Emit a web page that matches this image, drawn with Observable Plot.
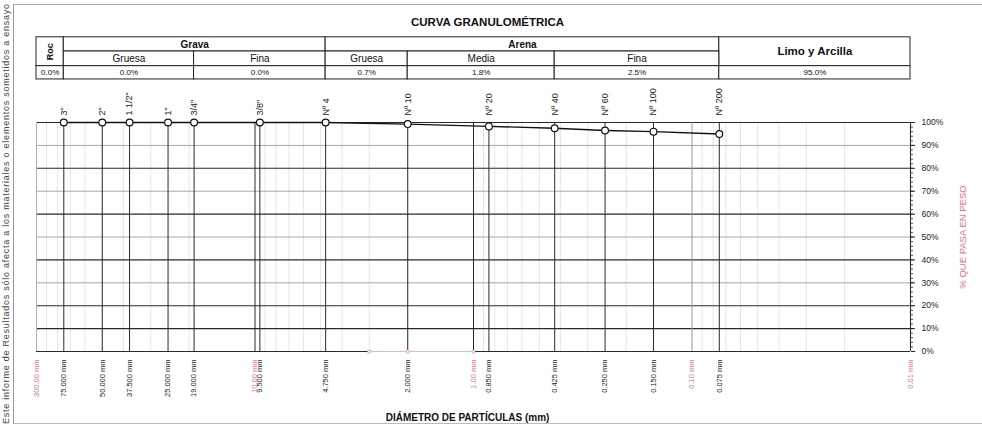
<!DOCTYPE html>
<html><head><meta charset="utf-8">
<script src="https://cdn.jsdelivr.net/npm/d3@7"></script>
<script src="https://cdn.jsdelivr.net/npm/@observablehq/plot@0.6"></script>
<style>
html,body{margin:0;padding:0;background:#fff;}
#wrap{position:relative;width:982px;height:427px;overflow:hidden;font-family:"Liberation Sans",Arial,sans-serif;}
#frame{position:absolute;left:13px;top:4px;width:990px;height:418px;border-left:1px solid #999;border-top:1px solid #aaa;border-bottom:1px solid #bbb;}
#side{position:absolute;left:1px;top:424px;transform-origin:0 0;transform:rotate(-90deg);white-space:nowrap;font-size:9px;letter-spacing:0.75px;line-height:11px;color:#444;}
#chart{position:absolute;left:0;top:0;}
</style></head>
<body><div id="wrap"><div id="frame"></div><div id="side">Este informe de Resultados sólo afecta a los materiales o elementos sometidos a ensayo</div><div id="chart"></div></div>
<script>
// ---- data ----
const sieveNames = ['3"', '2"', '1 1/2"', '1"', '3/4"', '3/8"', 'Nº 4', 'Nº 10', 'Nº 20', 'Nº 40', 'Nº 60', 'Nº 100', 'Nº 200'];
const sieveSizes = [75, 50, 37.5, 25, 19, 9.5, 4.75, 2.0, 0.85, 0.425, 0.25, 0.15, 0.075];
const sieveLabels = ["75.000 mm", "50.000 mm", "37.500 mm", "25.000 mm", "19.000 mm", "9.500 mm", "4.750 mm", "2.000 mm", "0.850 mm", "0.425 mm", "0.250 mm", "0.150 mm", "0.075 mm"];
const passing = [100, 100, 100, 100, 100, 100, 100, 99.3, 98.3, 97.5, 96.5, 96.0, 95.0];
const refSizes = [100, 10, 1, 0.1, 0.01];
const refLabels = ["300.00 mm", "10.00 mm", "1.00 mm", "0.10 mm", "0.01 mm"];
const yTicks = [0, 10, 20, 30, 40, 50, 60, 70, 80, 90, 100];
const yHeavy = [0, 10, 20, 40, 60, 80, 100];
const yLight = [30, 50, 70, 90];
const groupNames = ["Roc", "Grava", "Arena", "Limo y Arcilla"];
const groupBounds = [[100, 75], [75, 4.75], [4.75, 0.075], [0.075, 0.01]];
const subNames = ["Gruesa", "Fina", "Gruesa", "Media", "Fina"];
const fractionBounds = [100, 75, 19, 4.75, 2.0, 0.425, 0.075, 0.01];
const fractionValues = ["0.0%", "0.0%", "0.0%", "0.7%", "1.8%", "2.5%", "95.0%"];
const redMarks = [3, 2, 1];
// table row levels expressed in the y (percent) scale, above the plot frame
const tableRows = [137.2, 131.0, 124.6, 118.8];

// ---- derived tables ----
const points = sieveSizes.map((s, i) => ({size: s, pass: passing[i], name: sieveNames[i], label: sieveLabels[i]}));
const refs = refSizes.map((s, i) => ({size: s, label: refLabels[i]}));
const cells = [];
groupNames.forEach((g, i) => {
  const span2 = (i === 0 || i === 3);
  cells.push({x1: groupBounds[i][0], x2: groupBounds[i][1], y1: tableRows[0], y2: span2 ? tableRows[2] : tableRows[1], text: g, kind: i === 0 ? "roc" : (i === 3 ? "big" : "group")});
});
subNames.forEach((s, i) => {
  cells.push({x1: fractionBounds[i + 1], x2: fractionBounds[i + 2], y1: tableRows[1], y2: tableRows[2], text: s, kind: "sub"});
});
fractionValues.forEach((v, i) => {
  cells.push({x1: fractionBounds[i], x2: fractionBounds[i + 1], y1: tableRows[2], y2: tableRows[3], text: v, kind: "val"});
});
cells.forEach(c => { c.xm = Math.sqrt(c.x1 * c.x2); c.ym = (c.y1 + c.y2) / 2; });
const minorGrid = [];
[0.01, 0.1, 1, 10].forEach(d => { for (let k = 2; k <= 9; k++) minorGrid.push(+(k * d).toPrecision(3)); });
const minorTicks = d3.range(0, 101, 2);

const font = "Liberation Sans, Arial, sans-serif";
const red = "#e2707c";

const chart = Plot.plot({
  width: 982,
  height: 427,
  marginLeft: 36,
  marginRight: 72,
  marginTop: 122,
  marginBottom: 76,
  style: {fontFamily: font, fontSize: "8px", background: "transparent", color: "#222"},
  x: {type: "log", domain: [100, 0.01], axis: null},
  y: {domain: [0, 100]},
  marks: [
    // faint log minor grid
    Plot.ruleX(minorGrid, {y1: 0, y2: 100, stroke: "#e6e6e6", strokeWidth: 1}),
    // horizontal grid
    Plot.ruleY(yLight, {x1: 100, x2: 0.01, stroke: "#a8a8a8", strokeWidth: 1}),
    Plot.ruleY(yHeavy, {x1: 100, x2: 0.01, stroke: "#2a2a2a", strokeWidth: 1.1}),
    // reference decade lines
    Plot.ruleX([100], {y1: 0, y2: 100, stroke: "#b0b0b0", strokeWidth: 1}),
    Plot.ruleX([10, 1], {y1: 0, y2: 100, stroke: "#2a2a2a", strokeWidth: 1}),
    Plot.ruleX([0.1], {y1: 0, y2: 100, stroke: "#9a9a9a", strokeWidth: 1}),
    Plot.ruleX([0.01], {y1: 0, y2: 100, stroke: "#2a2a2a", strokeWidth: 1.1}),
    // sieve lines
    Plot.ruleX(sieveSizes, {y1: 0, y2: 100, stroke: "#2a2a2a", strokeWidth: 1}),
    // faint red segment on the base
    Plot.ruleY([0], {x1: redMarks[0], x2: redMarks[redMarks.length - 1], stroke: "#f3b3ba", strokeWidth: 1.2}),
    Plot.dot(redMarks, {x: d => d, y: 0, symbol: "square", r: 1.6, fill: "white", stroke: "#e59aa3", strokeWidth: 0.8}),
    // right axis
    Plot.axisY(minorTicks, {anchor: "right", tickSize: 2, tickFormat: () => "", stroke: "#555", label: null}),
    Plot.axisY(yTicks, {anchor: "right", tickSize: 4, tickPadding: 7, tickFormat: d => d + "%", fontSize: 8.5, fill: "#222", stroke: "#222", label: null}),
    Plot.text(["% QUE PASA EN PESO"], {frameAnchor: "right", dx: 52, rotate: -90, textAnchor: "middle", lineAnchor: "middle", fill: red, fontSize: 9.5}),
    // curve
    Plot.line(points, {x: "size", y: "pass", stroke: "#111", strokeWidth: 1.4}),
    Plot.dot(points, {x: "size", y: "pass", r: 3.4, fill: "white", stroke: "#111", strokeWidth: 1.2}),
    // sieve names (top)
    Plot.text(points, {x: "size", y: 100, text: "name", rotate: -90, textAnchor: "start", dy: -7, fontSize: 9, fill: "#222"}),
    // size labels (bottom)
    Plot.text(points, {x: "size", y: 0, text: "label", rotate: -90, textAnchor: "end", dy: 8, fontSize: 7.5, fill: "#222"}),
    Plot.text(refs, {x: "size", y: 0, text: "label", rotate: -90, textAnchor: "end", dy: 8, fontSize: 7.5, fill: red}),
    // titles
    Plot.text(["CURVA GRANULOMÉTRICA"], {frameAnchor: "top", lineAnchor: "middle", dy: -100, dx: 14, fontSize: 11.5, fontWeight: "bold", fill: "#111"}),
    Plot.text(["DIÁMETRO DE PARTÍCULAS (mm)"], {frameAnchor: "bottom", lineAnchor: "middle", dy: 66, dx: -6, fontSize: 10, fontWeight: "bold", fill: "#111"}),
    // classification table
    Plot.rect(cells, {x1: "x1", x2: "x2", y1: "y1", y2: "y2", fill: "white", stroke: "#222", strokeWidth: 1}),
    Plot.text(cells.filter(c => c.kind === "roc"), {x: "xm", y: "ym", text: "text", rotate: -90, fontSize: 9, fontWeight: "bold", fill: "#111"}),
    Plot.text(cells.filter(c => c.kind === "group"), {x: "xm", y: "ym", text: "text", fontSize: 10, fontWeight: "bold", fill: "#111"}),
    Plot.text(cells.filter(c => c.kind === "big"), {x: "xm", y: "ym", text: "text", fontSize: 11.5, fontWeight: "bold", fill: "#111"}),
    Plot.text(cells.filter(c => c.kind === "sub"), {x: "xm", y: "ym", text: "text", fontSize: 10, fill: "#111"}),
    Plot.text(cells.filter(c => c.kind === "val"), {x: "xm", y: "ym", text: "text", fontSize: 8, fill: "#111"})
  ]
});
document.getElementById("chart").appendChild(chart);
</script>
</body></html>
